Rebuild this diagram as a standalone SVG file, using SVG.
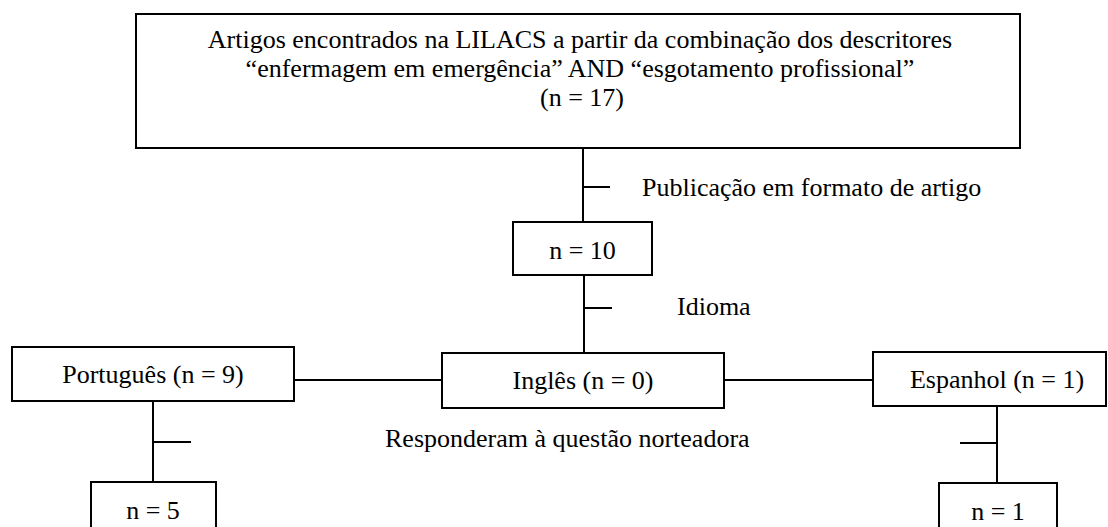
<svg xmlns="http://www.w3.org/2000/svg" width="1108" height="527" viewBox="0 0 1108 527">
<style>
.box{fill:#fff;stroke:#000;stroke-width:2}
.ln{stroke:#000;stroke-width:2;fill:none}
text{font-family:"Liberation Serif","Times New Roman",serif;font-size:26px;fill:#000}
.c{text-anchor:middle}
</style>
<rect width="1108" height="527" fill="#fff"/>
<g id="connectors">
<line class="ln" x1="583" y1="148" x2="583" y2="222"/>
<line class="ln" x1="583" y1="187" x2="610" y2="187"/>
<line class="ln" x1="584" y1="275" x2="584" y2="353"/>
<line class="ln" x1="584" y1="308" x2="612" y2="308"/>
<line class="ln" x1="294" y1="380" x2="442" y2="380"/>
<line class="ln" x1="724" y1="380" x2="873" y2="380"/>
<line class="ln" x1="153" y1="401" x2="153" y2="482"/>
<line class="ln" x1="153" y1="442" x2="191" y2="442"/>
<line class="ln" x1="997" y1="406" x2="997" y2="483"/>
<line class="ln" x1="960" y1="443" x2="997" y2="443"/>
</g>
<g id="labels">
<text x="642" y="196">Publicação em formato de artigo</text>
<text x="677" y="315">Idioma</text>
<text x="385" y="447">Responderam à questão norteadora</text>
</g>
<g id="top">
<rect class="box" x="136" y="14" width="884" height="134"/>
<text class="c" x="580" y="48">Artigos encontrados na LILACS a partir da combinação dos descritores</text>
<text class="c" x="580" y="77">“enfermagem em emergência” AND “esgotamento profissional”</text>
<text class="c" x="582" y="106">(n = 17)</text>
</g>
<g id="n10">
<rect class="box" x="513" y="222" width="139" height="53"/>
<text class="c" x="582.5" y="259">n = 10</text>
</g>
<g id="ingles">
<rect class="box" x="442" y="353" width="282" height="55"/>
<text class="c" x="583" y="389">Inglês (n = 0)</text>
</g>
<g id="portugues">
<rect class="box" x="12" y="347" width="282" height="54"/>
<text class="c" x="153" y="383">Português (n = 9)</text>
</g>
<g id="espanhol">
<rect class="box" x="873" y="352" width="233" height="54"/>
<text class="c" x="997" y="388">Espanhol (n = 1)</text>
</g>
<g id="n5">
<rect class="box" x="91" y="482" width="125" height="70"/>
<text class="c" x="153" y="519">n = 5</text>
</g>
<g id="n1">
<rect class="box" x="939" y="483" width="118" height="70"/>
<text class="c" x="998" y="520">n = 1</text>
</g>
</svg>
